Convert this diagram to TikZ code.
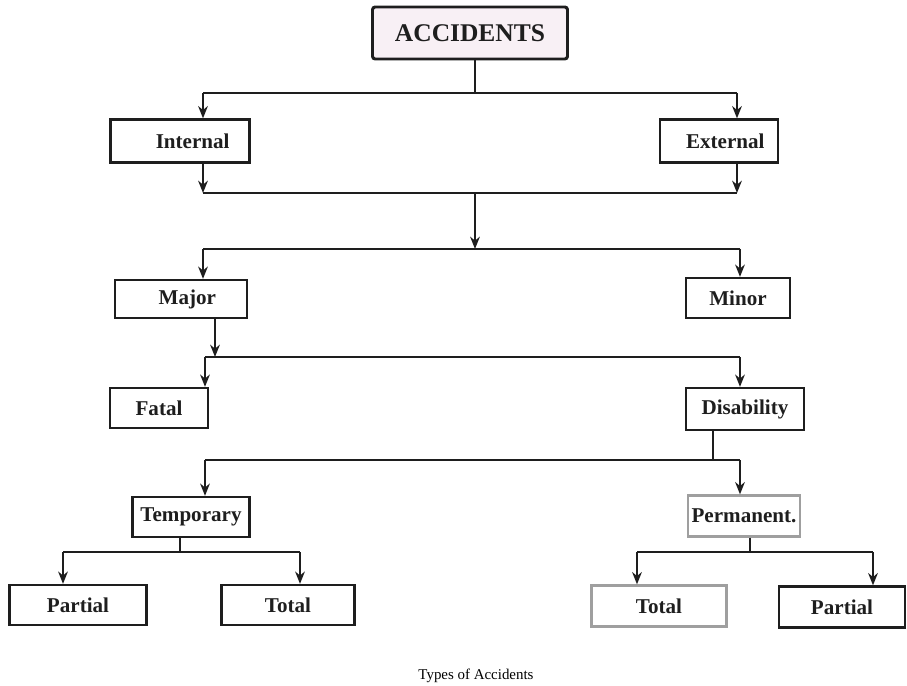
\documentclass[tikz,border=0pt]{standalone}
\usepackage{fontspec}
\setmainfont{Liberation Serif}
\usetikzlibrary{arrows.meta,positioning}

\definecolor{accpink}{HTML}{F8F0F5}
\definecolor{inkgray}{HTML}{1E1E1E}

\begin{document}
\begin{tikzpicture}[%
x=0.02cm, y=-0.02cm,
>={Stealth[length=7pt,width=5.5pt]},
line width=1.1pt,
draw=inkgray,
size/.style 2 args={minimum width=#1*0.02cm, minimum height=#2*0.02cm},
box/.style={draw=inkgray, line width=1.3pt, inner sep=0pt, text=inkgray,
  font=\bfseries\fontsize{12}{14}\selectfont},
pale/.style={draw=gray!75},
accbox/.style={box, fill=accpink, rounded corners=1.5pt, line width=1.7pt,
  font=\bfseries\fontsize{14.5}{17}\selectfont}
]

\useasboundingbox (0,0) rectangle (907,686);

% boxes
\node[accbox, size={195}{52}] (acc) at (470,33) {ACCIDENTS};

\node[box, size={139}{43}] (int) at (180,141) {\hspace{1.2em}Internal};
\node[box, size={118}{43}] (ext) at (719,141) {\hspace{0.6em}External};

\node[box, size={132}{38}] (maj) at (181,299) {\hspace{0.6em}Major};
\node[box, size={104}{40}] (min) at (738,298) {Minor};

\node[box, size={98}{40}] (fat) at (159,408) {Fatal};
\node[box, size={118}{42}] (dis) at (745,409) {Disability};

\node[box, size={117}{40}] (tmp) at (191,517) {Temporary};
\node[box, pale, size={112}{41}] (per) at (744,516) {Permanent.};

\node[box, size={137}{40}] (tpa) at (78,605) {Partial};
\node[box, size={133}{40}] (tto) at (288,605) {Total};
\node[box, pale, size={135}{41}] (pto) at (659,606) {Total};
\node[box, size={126}{41}] (ppa) at (842,607) {Partial};

\node[font=\fontsize{8.5}{10}\selectfont] (cap) at (476,676) {Types of Accidents};

% junctions
\coordinate (s1) at (475,93);
\coordinate (l1) at (203,93);
\coordinate (r1) at (737,93);
\coordinate (l2) at (203,193);
\coordinate (m2) at (475,193);
\coordinate (r2) at (737,193);
\coordinate (l3) at (203,249);
\coordinate (m3) at (475,249);
\coordinate (r3) at (740,249);
\coordinate (l4) at (205,357);
\coordinate (m4) at (215,357);
\coordinate (r4) at (740,357);
\coordinate (l5) at (205,460);
\coordinate (m5) at (713,460);
\coordinate (r5) at (740,460);
\coordinate (l6) at (63,552);
\coordinate (m6) at (180,552);
\coordinate (r6) at (300,552);
\coordinate (l7) at (637,552);
\coordinate (m7) at (750,552);
\coordinate (r7) at (873,552);

% accidents -> internal / external
\draw (s1 |- acc.south) -- (s1);
\draw (l1) -- (r1);
\draw[->] (l1) -- (l1 |- int.north);
\draw[->] (r1) -- (r1 |- ext.north);

% internal / external -> major / minor
\draw[->] (l2 |- int.south) -- (l2);
\draw[->] (r2 |- ext.south) -- (r2);
\draw (l2) -- (r2);
\draw[->] (m2) -- (m3);
\draw (l3) -- (r3);
\draw[->] (l3) -- (l3 |- maj.north);
\draw[->] (r3) -- (r3 |- min.north);

% major -> fatal / disability
\draw[->] (m4 |- maj.south) -- (m4);
\draw (l4) -- (r4);
\draw[->] (l4) -- (l4 |- fat.north);
\draw[->] (r4) -- (r4 |- dis.north);

% disability -> temporary / permanent
\draw (m5 |- dis.south) -- (m5);
\draw (l5) -- (r5);
\draw[->] (l5) -- (l5 |- tmp.north);
\draw[->] (r5) -- (r5 |- per.north);

% temporary -> partial / total
\draw (m6 |- tmp.south) -- (m6);
\draw (l6) -- (r6);
\draw[->] (l6) -- (l6 |- tpa.north);
\draw[->] (r6) -- (r6 |- tto.north);

% permanent -> total / partial
\draw (m7 |- per.south) -- (m7);
\draw (l7) -- (r7);
\draw[->] (l7) -- (l7 |- pto.north);
\draw[->] (r7) -- (r7 |- ppa.north);

\end{tikzpicture}
\end{document}
